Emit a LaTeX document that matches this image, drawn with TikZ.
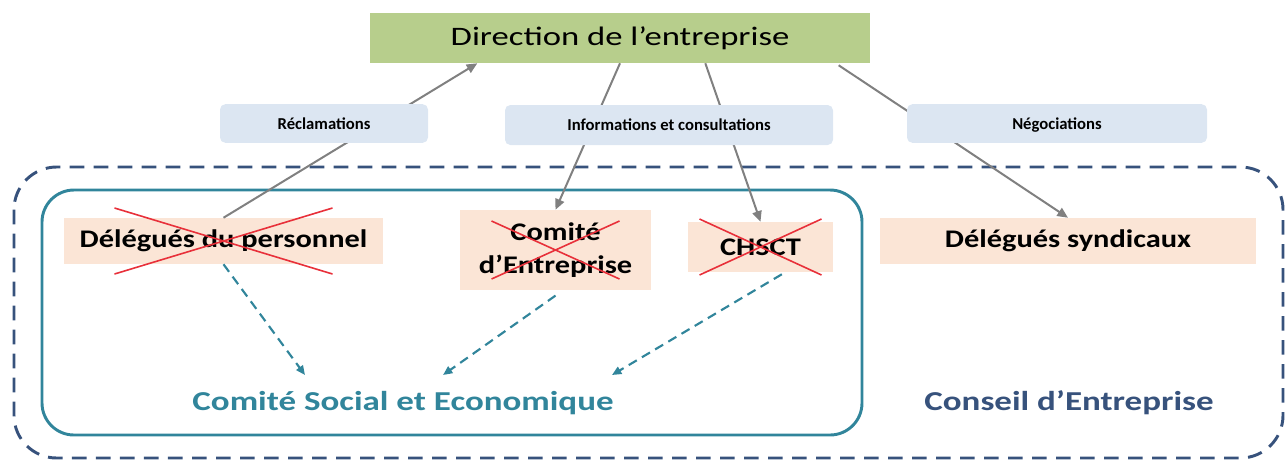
\documentclass[tikz,border=0pt]{standalone}
\usepackage{fontspec}
\setmainfont{Carlito}
\newfontfamily\dirfont{Carlito}[FakeStretch=1.3]
\newfontfamily\boxfont{Carlito}[FakeStretch=1.2]
\newfontfamily\titlefont{Carlito}[FakeStretch=1.28]
\usetikzlibrary{arrows.meta}
\usetikzlibrary{positioning}

\definecolor{dirgreen}{RGB}{183,206,140}
\definecolor{peach}{RGB}{251,229,214}
\definecolor{tagblue}{RGB}{220,230,242}
\definecolor{cseteal}{RGB}{49,133,155}
\definecolor{cenavy}{RGB}{55,82,124}
\definecolor{xred}{RGB}{232,48,58}
\definecolor{linkgray}{RGB}{128,128,128}

\tikzset{
  direction/.style={fill=dirgreen, minimum width=375pt, minimum height=37.5pt, font=\dirfont\fontsize{20}{24}\selectfont},
  tag/.style={fill=tagblue, rounded corners=4pt, text depth=0pt, font=\bfseries\fontsize{12.5}{14}\selectfont},
  instance/.style={fill=peach, align=center, font=\boxfont\bfseries\fontsize{19}{25}\selectfont},
  link/.style={draw=linkgray, line width=1.5pt, -{Triangle[length=8pt,width=7pt]}},
  merge/.style={draw=cseteal, line width=1.6pt, dash pattern=on 7pt off 4.5pt, -{Triangle[length=7pt,width=6pt]}},
  xline/.style={draw=xred, line width=1.2pt},
  bigtitle/.style={font=\titlefont\bfseries\fontsize{20.5}{22}\selectfont}
}

\newcommand{\crossout}[3]{
  \draw[xline] ([shift={(-#2,-#3)}]#1.center) -- ([shift={(#2,#3)}]#1.center)
               ([shift={(-#2,#3)}]#1.center) -- ([shift={(#2,-#3)}]#1.center);
}

\begin{document}
\begin{tikzpicture}[x=0.75pt, y=-0.75pt]
  \useasboundingbox (0,0) rectangle (1287,462);

  \draw[cenavy, line width=2.2pt, dash pattern=on 11pt off 7pt, rounded corners=32pt] (14,167) rectangle (1283,458);
  \draw[cseteal, line width=2.2pt, rounded corners=24pt] (42,190) rectangle (862,435);

  \node[direction] (dir) at (620,38) {Direction de l’entreprise};

  \node[instance, minimum width=239pt, minimum height=34.5pt] (dp) at (223.5,241) {Délégués du personnel};
  \node[instance, minimum width=143pt, minimum height=60pt] (ce) at (555.5,250) {Comité\\d’Entreprise};
  \node[instance, minimum width=109pt, minimum height=37.5pt] (chsct) at (760.5,247) {CHSCT};
  \node[instance, minimum width=282pt, minimum height=34.5pt] (ds) at (1068,241) {Délégués syndicaux};

  \draw
    (dp.north) edge[link] ([xshift=-107pt]dir.south)
    (dir.south) edge[link] (ce.north)
    ([xshift=64pt]dir.south) edge[link] (chsct.north)
    ([xshift=164pt,yshift=-1.5pt]dir.south) edge[link] (ds.north);

  \node[tag, minimum width=156pt, minimum height=29pt] (recl) at (324,123.5) {Réclamations};
  \node[tag, minimum width=246pt, minimum height=30pt] (info) at (669,125) {Informations et consultations};
  \node[tag, minimum width=225pt, minimum height=29pt] (nego) at (1057,123.5) {Négociations};

  \crossout{dp}{109}{33}
  \crossout{ce}{64}{29}
  \crossout{chsct}{61}{28}

  \node[bigtitle, text=cseteal] (cse) at (403,403) {Comité Social et Economique};
  \node[bigtitle, text=cenavy] (cde) at (1069,403) {Conseil d’Entreprise};

  \draw
    (dp.south) edge[merge] ([shift={(-98,-28)}]cse.center)
    ([yshift=-4pt]ce.south) edge[merge] ([shift={(40,-28)}]cse.center)
    ([xshift=16pt,yshift=-1.5pt]chsct.south) edge[merge] ([shift={(209,-28)}]cse.center);
\end{tikzpicture}
\end{document}
